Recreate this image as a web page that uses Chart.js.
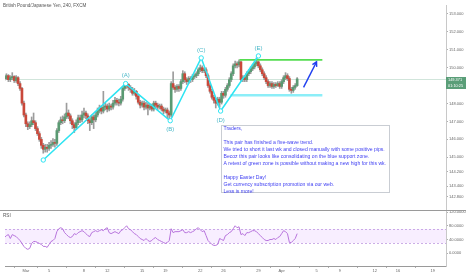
<!DOCTYPE html>
<html>
<head>
<meta charset="utf-8">
<script src="https://cdn.jsdelivr.net/npm/chart.js@4.4.1/dist/chart.umd.min.js"></script>
<style>
  html, body { margin: 0; padding: 0; background: #fff; }
  #wrap { width: 466px; height: 275px; }
</style>
</head>
<body>
<div id="wrap"><canvas id="priceChart" width="466" height="275"></canvas></div>
<script>
// GBPJPY 4h candles
const opens = [149.50,149.39,149.55,149.33,149.44,149.50,149.28,149.44,149.11,148.84,
  148.02,147.36,146.87,146.71,146.82,147.04,146.93,146.60,146.32,146.00,
  145.67,145.45,145.56,145.50,145.67,145.72,145.83,145.78,146.49,146.93,
  147.09,147.04,147.25,147.47,147.31,147.04,146.82,146.65,146.93,147.20,
  147.09,147.36,147.47,147.31,147.04,146.93,147.25,147.09,147.36,147.58,
  147.75,147.58,147.80,147.86,147.69,147.86,147.80,148.02,148.18,148.07,
  148.02,148.24,148.84,149.00,149.06,148.90,148.79,148.57,148.68,148.40,
  148.07,147.91,148.02,147.80,147.91,147.75,147.86,147.69,148.02,147.91,
  147.80,147.86,147.69,147.58,147.64,147.47,147.36,149.11,148.90,148.79,
  148.95,148.84,149.22,149.66,149.33,149.22,149.39,149.33,149.50,149.55,
  149.66,149.88,149.99,149.83,149.88,149.55,149.00,148.68,148.35,148.18,
  148.02,148.24,148.07,148.57,148.46,148.79,149.00,149.33,149.66,150.10,
  150.21,150.15,150.32,149.33,149.44,149.33,149.66,149.77,149.93,150.04,
  150.21,150.32,150.10,149.88,149.66,149.44,149.22,149.00,149.11,148.95,
  149.06,149.00,149.11,148.95,149.22,149.44,149.55,149.39,148.79,148.73,
  148.90,149.00];
const highs = [149.61,149.66,149.61,149.55,149.72,149.55,149.55,149.50,149.22,148.90,
  148.13,147.47,146.98,146.98,147.25,147.47,147.04,146.71,146.43,146.11,
  145.78,145.72,145.72,145.83,145.94,146.05,146.00,146.60,147.04,147.25,
  147.31,147.42,148.02,147.64,147.42,147.15,146.93,147.09,147.36,147.36,
  147.58,147.75,147.58,147.42,147.15,147.36,147.36,147.53,147.75,147.91,
  147.86,148.68,148.02,147.97,148.02,147.97,148.18,148.35,148.29,148.24,
  148.40,148.95,149.17,149.17,149.11,149.00,148.90,148.84,148.73,148.51,
  148.18,148.13,148.13,148.07,148.02,147.97,147.97,148.13,148.13,148.02,
  147.97,147.97,147.80,147.75,147.75,147.58,149.22,149.77,149.00,149.06,
  149.06,149.33,149.83,149.77,149.44,149.50,149.50,149.61,149.66,149.77,
  149.99,150.15,150.10,149.99,149.99,149.66,149.11,148.79,148.46,148.29,
  148.35,148.35,148.68,148.68,148.90,149.11,149.44,149.77,150.21,150.37,
  150.32,150.43,150.37,149.55,149.55,149.77,149.88,150.04,150.15,150.32,
  150.54,150.37,150.21,149.99,149.77,149.55,149.33,149.22,149.22,149.17,
  149.17,149.22,149.22,149.33,149.55,149.72,149.66,149.50,148.90,149.00,
  149.11,149.44];
const lows = [149.28,149.33,149.22,149.22,149.33,149.17,149.17,149.00,148.73,147.91,
  147.25,146.71,146.54,146.60,146.71,146.82,146.49,146.22,145.89,145.50,
  145.23,145.29,145.29,145.39,145.50,145.61,145.56,145.67,146.38,146.82,
  146.87,146.93,147.15,147.15,146.87,146.60,146.38,146.54,146.82,146.93,
  146.98,147.20,147.15,146.87,146.49,146.82,146.60,146.98,147.25,147.47,
  147.42,147.47,147.64,147.53,147.58,147.64,147.69,147.91,147.91,147.86,
  147.91,148.13,148.73,148.84,148.73,148.62,148.46,148.46,148.24,147.97,
  147.75,147.80,147.64,147.69,147.36,147.64,147.58,147.58,147.75,147.64,
  147.69,147.58,147.42,147.47,147.20,147.15,147.25,148.79,148.62,148.68,
  148.68,148.73,149.11,149.17,149.06,149.11,149.17,149.22,149.39,149.44,
  149.55,149.77,149.72,149.72,149.44,148.90,148.57,148.24,148.02,147.75,
  147.91,147.80,147.97,148.29,148.35,148.68,148.90,149.22,149.55,149.99,
  149.99,150.04,149.22,149.22,149.22,149.22,149.55,149.66,149.83,149.93,
  150.10,149.99,149.77,149.55,149.33,149.11,148.90,148.90,148.84,148.84,
  148.90,148.95,148.84,148.84,149.11,149.33,149.28,148.68,148.57,148.62,
  148.79,148.95];
const closes = [149.39,149.55,149.33,149.44,149.50,149.28,149.44,149.11,148.84,148.02,
  147.36,146.87,146.71,146.82,147.04,146.93,146.60,146.32,146.00,145.67,
  145.45,145.56,145.50,145.67,145.72,145.83,145.78,146.49,146.93,147.09,
  147.04,147.25,147.47,147.31,147.04,146.82,146.65,146.93,147.20,147.09,
  147.36,147.47,147.31,147.04,146.93,147.25,147.09,147.36,147.58,147.75,
  147.58,147.80,147.86,147.69,147.86,147.80,148.02,148.18,148.07,148.02,
  148.24,148.84,149.00,149.06,148.90,148.79,148.57,148.68,148.40,148.07,
  147.91,148.02,147.80,147.91,147.75,147.86,147.69,148.02,147.91,147.80,
  147.86,147.69,147.58,147.64,147.47,147.36,149.11,148.90,148.79,148.95,
  148.84,149.22,149.66,149.33,149.22,149.39,149.33,149.50,149.55,149.66,
  149.88,149.99,149.83,149.88,149.55,149.00,148.68,148.35,148.18,148.02,
  148.24,148.07,148.57,148.46,148.79,149.00,149.33,149.66,150.10,150.21,
  150.15,150.32,149.33,149.44,149.33,149.66,149.77,149.93,150.04,150.21,
  150.32,150.10,149.88,149.66,149.44,149.22,149.00,149.11,148.95,149.06,
  149.00,149.11,148.95,149.22,149.44,149.55,149.39,148.79,148.73,148.90,
  149.00,149.37];
const rsi = [45.7,51.4,54.3,42.9,54.3,51.4,48.6,42.9,37.1,28.6,
  20.0,14.3,11.4,14.3,28.6,34.3,34.3,31.4,28.6,25.7,
  20.0,20.0,17.1,25.7,34.3,37.1,42.9,62.9,71.4,74.3,
  71.4,60.0,54.3,48.6,45.7,48.6,57.1,54.3,60.0,62.9,
  65.7,62.9,57.1,51.4,48.6,60.0,62.9,65.7,62.9,65.7,
  68.6,65.7,71.4,74.3,60.0,57.1,60.0,62.9,60.0,57.1,
  65.7,68.6,74.3,80.0,71.4,68.6,62.9,57.1,54.3,48.6,
  42.9,40.0,37.1,42.9,37.1,34.3,37.1,42.9,45.7,40.0,
  37.1,34.3,31.4,28.6,31.4,37.1,71.4,60.0,62.9,62.9,
  62.9,65.7,68.6,60.0,60.0,62.9,60.0,62.9,65.7,71.4,
  74.3,68.6,62.9,65.7,51.4,37.1,31.4,25.7,22.9,22.9,
  25.7,42.9,40.0,37.1,51.4,54.3,60.0,62.9,71.4,80.0,
  74.3,77.1,54.3,57.1,51.4,60.0,60.0,62.9,65.7,65.7,
  62.9,57.1,51.4,45.7,40.0,37.1,37.1,40.0,40.0,42.9,
  40.0,45.7,48.6,57.1,65.7,62.9,57.1,31.4,31.4,37.1,
  42.9,57.1];
const lastPrice = 149.371;

// axis ticks (x values are candle positions)
const tickPos = [11, 23, 41, 53, 71, 83, 101, 113, 131, 143, 161, 173, 191, 203, 221];
const tickText = ['Mar', '5', '8', '12', '15', '19', '22', '26', '29', 'Apr', '5', '9', '12', '16', '19'];
const priceTicks = [153, 152, 151, 150, 148, 147, 146, 145, 144.2, 143.4, 142.8];
const rsiTicks = [120, 80, 40, 0];

// drawings on the chart
const waveX = [20, 62.5, 85.5, 101.5, 111.5, 131];
const waveY = [144.85, 149.11, 147.04, 150.54, 147.58, 150.65];
const waveNames = ['', '(A)', '(B)', '(C)', '(D)', '(E)'];
const resistX = [121.2, 164];
const resistY = [150.43, 150.43];
const supportX = [116.6, 164];
const supportY = [148.46, 148.46];
const arrowX = [154.3, 161];
const arrowY = [148.90, 150.32];

const noteLines = [
  'Traders,',
  '',
  'This pair has finished a five-wave trend.',
  'We tried to short it last wk and closed manually with some positive pips.',
  'Becoz this pair looks like consolidating on the blue support zone.',
  'A retest of green zone is possible without making a new high for this wk.',
  '',
  'Happy Easter Day!',
  'Get currency subscription promotion via our web.',
  'Less is more!'
];

const FONT = '"Liberation Sans", Arial, sans-serif';
const upColor = '#5a9a72';
const downColor = '#c9483a';
const cyan = '#2ee4f2';

const toPts = (xs, ys) => xs.map((x, i) => ({ x: x, y: ys[i] }));

const ctx = document.getElementById('priceChart').getContext('2d');

const overlay = {
    id: 'overlay',
    beforeDatasetsDraw(chart) {
        const c = chart.ctx;
        const a = chart.chartArea;
        const y = chart.scales.y, r = chart.scales.yRsi;
        c.save();
        // rsi band 30..70
        const t = r.getPixelForValue(70), b = r.getPixelForValue(30);
        c.fillStyle = 'rgba(153, 21, 255, 0.07)';
        c.fillRect(a.left, t, a.right - a.left, b - t);
        c.strokeStyle = 'rgba(170, 120, 215, 0.6)';
        c.lineWidth = 1;
        c.setLineDash([2, 2]);
        [t, b].forEach(py => {
            c.beginPath();
            c.moveTo(a.left, Math.round(py) + 0.5);
            c.lineTo(a.right, Math.round(py) + 0.5);
            c.stroke();
        });
        c.setLineDash([]);
        // last price line
        const lp = Math.round(y.getPixelForValue(lastPrice)) + 0.5;
        c.strokeStyle = 'rgba(90, 160, 125, 0.28)';
        c.beginPath();
        c.moveTo(a.left, lp);
        c.lineTo(a.right, lp);
        c.stroke();
        c.restore();
    },
    afterDraw(chart) {
        const c = chart.ctx;
        const a = chart.chartArea;
        const x = chart.scales.x, y = chart.scales.y;
        c.save();

        // pane separator
        const sep = Math.round(y.bottom) + 0.5;
        c.strokeStyle = '#9a9a9a';
        c.lineWidth = 1;
        c.beginPath();
        c.moveTo(0, sep);
        c.lineTo(chart.width, sep);
        c.stroke();

        // title + indicator name
        c.fillStyle = '#555';
        c.font = '4.6px ' + FONT;
        c.textBaseline = 'middle';
        c.textAlign = 'left';
        c.fillText('British Pound/Japanese Yen, 240, FXCM', 3, 6);
        c.fillText('RSI', 3, y.bottom + 6);

        // wave labels
        c.font = '6px ' + FONT;
        c.fillStyle = '#4ab8c8';
        c.textAlign = 'center';
        waveNames.forEach((name, i) => {
            if (!name) return;
            const px = x.getPixelForValue(waveX[i]);
            const py = y.getPixelForValue(waveY[i]);
            const peak = waveY[i] > waveY[i - 1];
            c.fillText(name, px, peak ? py - 8 : py + 9);
        });

        // arrow head
        const ax0 = x.getPixelForValue(arrowX[0]), ay0 = y.getPixelForValue(arrowY[0]);
        const ax1 = x.getPixelForValue(arrowX[1]), ay1 = y.getPixelForValue(arrowY[1]);
        const ang = Math.atan2(ay1 - ay0, ax1 - ax0);
        c.strokeStyle = '#2040f0';
        c.lineWidth = 1.4;
        c.beginPath();
        c.moveTo(ax1 - 5 * Math.cos(ang - 0.5), ay1 - 5 * Math.sin(ang - 0.5));
        c.lineTo(ax1, ay1);
        c.lineTo(ax1 - 5 * Math.cos(ang + 0.5), ay1 - 5 * Math.sin(ang + 0.5));
        c.stroke();

        // note box
        const bx0 = Math.round(x.getPixelForValue(111.5)) + 0.5;
        const bx1 = Math.round(x.getPixelForValue(198.2)) + 0.5;
        const by0 = Math.round(y.getPixelForValue(146.82)) + 0.5;
        const by1 = Math.round(y.getPixelForValue(143.05)) + 0.5;
        c.fillStyle = '#fff';
        c.fillRect(bx0, by0, bx1 - bx0, by1 - by0);
        c.strokeStyle = '#c9cdd3';
        c.lineWidth = 1;
        c.strokeRect(bx0, by0, bx1 - bx0, by1 - by0);
        c.fillStyle = '#3e3ef2';
        c.font = '5.1px ' + FONT;
        c.textAlign = 'left';
        noteLines.forEach((line, i) => {
            c.fillText(line, bx0 + 2, by0 + 3.5 + i * 7);
        });

        // last price label
        const lp = Math.round(y.getPixelForValue(lastPrice));
        c.fillStyle = '#5a9e78';
        c.fillRect(a.right, lp - 2, chart.width - a.right, 12);
        c.fillStyle = '#fff';
        c.font = '3.9px ' + FONT;
        c.fillText(lastPrice.toFixed(3), a.right + 2, lp + 1.3);
        c.fillText('01:10:25', a.right + 2, lp + 6.8);

        c.restore();
    }
};

const priceChart = new Chart(ctx, {
    type: 'bar',
    data: {
        datasets: [
            {
                label: 'arrow',
                type: 'line',
                data: toPts(arrowX, arrowY),
                borderColor: '#2040f0',
                borderWidth: 1.4,
                pointRadius: 0,
                yAxisID: 'y',
                order: 1
            },
            {
                label: 'wave',
                type: 'line',
                data: toPts(waveX, waveY),
                borderColor: cyan,
                borderWidth: 1.5,
                pointRadius: 2.2,
                pointBackgroundColor: '#fff',
                pointBorderColor: cyan,
                pointBorderWidth: 1,
                yAxisID: 'y',
                order: 2
            },
            {
                label: 'resistance',
                type: 'line',
                data: toPts(resistX, resistY),
                borderColor: '#55dd50',
                borderWidth: 1.6,
                pointRadius: 0,
                yAxisID: 'y',
                order: 3
            },
            {
                label: 'support',
                type: 'line',
                data: toPts(supportX, supportY),
                borderColor: '#8ceef8',
                borderWidth: 2.6,
                pointRadius: 0,
                yAxisID: 'y',
                order: 4
            },
            {
                label: 'RSI',
                type: 'line',
                data: rsi.map((v, i) => ({ x: i, y: v })),
                borderColor: '#b774dc',
                borderWidth: 1,
                pointRadius: 0,
                xAxisID: 'x',
                yAxisID: 'yRsi',
                order: 5
            },
            {
                label: 'body',
                data: closes.map((c, i) => ({ x: i, y: [opens[i], c] })),
                backgroundColor: closes.map((c, i) => c >= opens[i] ? upColor : downColor),
                barThickness: 2,
                grouped: false,
                borderSkipped: false,
                yAxisID: 'y',
                order: 6
            },
            {
                label: 'wick',
                data: closes.map((c, i) => ({ x: i, y: [lows[i], highs[i]] })),
                backgroundColor: '#9c9c9c',
                barThickness: 1,
                grouped: false,
                borderSkipped: false,
                yAxisID: 'y',
                order: 7
            }
        ]
    },
    options: {
        responsive: false,
        animation: false,
        events: [],
        layout: { padding: 0 },
        plugins: {
            legend: { display: false },
            tooltip: { enabled: false }
        },
        scales: {
            x: {
                type: 'linear',
                position: 'bottom',
                min: 0.25,
                max: 227.8,
                offset: false,
                grid: { drawOnChartArea: false, tickLength: 2, color: '#b0b0b0' },
                border: { color: '#9a9a9a' },
                ticks: {
                    font: { size: 4, family: FONT },
                    color: '#666',
                    padding: 0,
                    autoSkip: false,
                    maxRotation: 0,
                    callback: v => tickText[tickPos.indexOf(v)]
                },
                afterBuildTicks: s => { s.ticks = tickPos.map(v => ({ value: v })); },
                afterFit: s => { s.height = 9; }
            },
            y: {
                type: 'linear',
                position: 'right',
                stack: 'pane',
                stackWeight: 209,
                min: 142.06,
                max: 153.49,
                grid: { drawOnChartArea: false, tickLength: 2, color: '#b0b0b0' },
                border: { color: '#c8c8c8' },
                ticks: {
                    font: { size: 4, family: FONT },
                    color: '#666',
                    padding: 1,
                    callback: v => v.toFixed(3)
                },
                afterBuildTicks: s => { s.ticks = priceTicks.map(v => ({ value: v })); },
                afterFit: s => { s.width = 20; }
            },
            yRsi: {
                type: 'linear',
                axis: 'y',
                position: 'right',
                stack: 'pane',
                stackWeight: 57,
                min: -37.1,
                max: 125.7,
                grid: { drawOnChartArea: false, tickLength: 2, color: '#b0b0b0' },
                border: { color: '#c8c8c8' },
                ticks: {
                    font: { size: 4, family: FONT },
                    color: '#666',
                    padding: 1,
                    callback: v => v.toFixed(4)
                },
                afterBuildTicks: s => { s.ticks = rsiTicks.map(v => ({ value: v })); },
                afterFit: s => { s.width = 20; }
            }
        }
    },
    plugins: [overlay]
});
</script>
</body>
</html>
